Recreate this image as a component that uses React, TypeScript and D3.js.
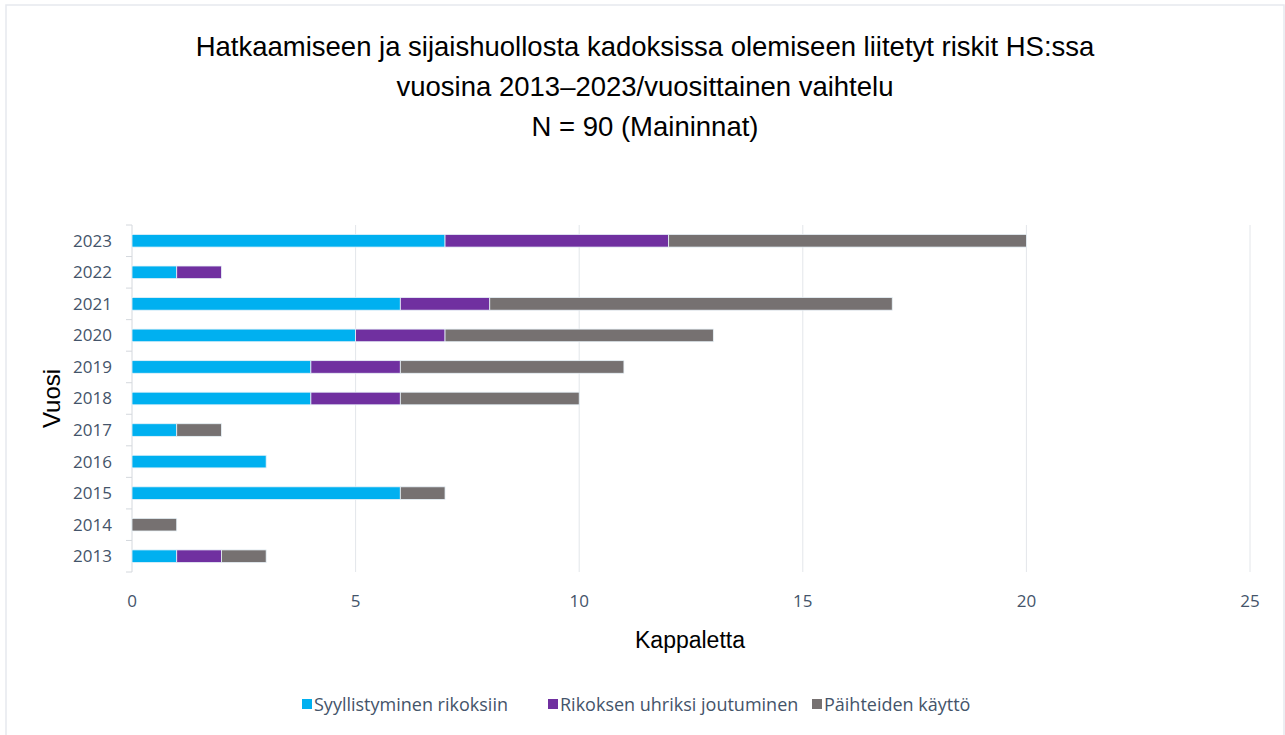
import React, { useEffect } from "react";
import * as d3 from "d3";

const years = ["2013", "2014", "2015", "2016", "2017", "2018", "2019", "2020", "2021", "2022", "2023"];
const rikoksiin = [1, 0, 6, 3, 1, 4, 4, 5, 6, 1, 7];
const uhriksi = [1, 0, 0, 0, 0, 2, 2, 2, 2, 1, 5];
const paihteet = [1, 1, 1, 0, 1, 4, 5, 6, 9, 0, 8];
const seriesNames = ["Syyllistyminen rikoksiin", "Rikoksen uhriksi joutuminen", "Päihteiden käyttö"];
const colors = ["#00B0F0", "#7030A0", "#767171"];
const xTicks = [0, 5, 10, 15, 20, 25];
const titleLines = [
  "Hatkaamiseen ja sijaishuollosta kadoksissa olemiseen liitetyt riskit HS:ssa",
  "vuosina 2013–2023/vuosittainen vaihtelu",
  "N = 90 (Maininnat)",
];

const W = 1285;
const H = 735;
const margin = { top: 225, right: 35, bottom: 163, left: 132 };
const titleFont = "'Liberation Sans', Arial, sans-serif";
const labelFont = "'Open Sans', 'Noto Sans', sans-serif";
const tickColor = "#44546A";

export default function App() {
  useEffect(() => {
    document.body.style.margin = "0";
  }, []);

  const rows = years.map((y, i) => ({ year: y, a: rikoksiin[i], b: uhriksi[i], c: paihteet[i] }));
  const stacked = d3.stack<any>().keys(["a", "b", "c"])(rows);

  const x = d3.scaleLinear().domain([0, 25]).range([margin.left, W - margin.right]);
  const y = d3
    .scaleBand()
    .domain([...years].reverse())
    .range([margin.top, H - margin.bottom])
    .paddingInner(0.6)
    .paddingOuter(0.3);

  const step = y.step();
  const top = margin.top;
  const bottom = H - margin.bottom;
  const legendX = [302, 548, 812];

  return (
    <svg width={W} height={H} style={{ display: "block", background: "#fff" }}>
      <path d={`M6,${H} V5 H${W - 1} V${H}`} fill="none" stroke="#e6e9ee" strokeWidth={1.5} />

      {titleLines.map((t, i) => (
        <text key={i} x={645} y={56 + i * 40} textAnchor="middle" fontFamily={titleFont} fontSize={27.5} fill="#000">
          {t}
        </text>
      ))}

      {xTicks.filter((t) => t > 0).map((t) => (
        <line key={t} x1={x(t)} x2={x(t)} y1={top} y2={bottom} stroke="#e3e6ea" strokeWidth={1} />
      ))}

      {/* y axis with band-boundary ticks */}
      <line x1={x(0)} x2={x(0)} y1={top} y2={bottom} stroke="#d4d8dd" strokeWidth={1} />
      {d3.range(years.length + 1).map((i) => (
        <line key={i} x1={x(0) - 6} x2={x(0)} y1={top + i * step} y2={top + i * step} stroke="#d4d8dd" strokeWidth={1} />
      ))}

      {stacked.map((s, si) => (
        <g key={si} fill={colors[si]}>
          {s.map((d, di) =>
            d[1] - d[0] > 0 ? (
              <rect
                key={di}
                x={x(d[0])}
                y={y(d.data.year)}
                width={x(d[1]) - x(d[0])}
                height={y.bandwidth()}
                stroke="#e8f2f8"
                strokeWidth={0.8}
              />
            ) : null
          )}
        </g>
      ))}

      {years.map((yr) => (
        <text
          key={yr}
          x={112}
          y={(y(yr) as number) + y.bandwidth() / 2}
          dy="0.35em"
          textAnchor="end"
          fontFamily={labelFont}
          fontSize={17}
          fill={tickColor}
        >
          {yr}
        </text>
      ))}

      {xTicks.map((t) => (
        <text key={t} x={x(t)} y={607} textAnchor="middle" fontFamily={labelFont} fontSize={17} fill={tickColor}>
          {t}
        </text>
      ))}

      <text x={690} y={648} textAnchor="middle" fontFamily={titleFont} fontSize={23} fill="#000">
        Kappaletta
      </text>
      <text
        transform={`translate(60, ${(top + bottom) / 2}) rotate(-90)`}
        textAnchor="middle"
        fontFamily={titleFont}
        fontSize={24}
        fill="#000"
      >
        Vuosi
      </text>

      {seriesNames.map((n, i) => (
        <g key={n} transform={`translate(${legendX[i]}, 705)`}>
          <rect x={0} y={-6} width={10} height={10} fill={colors[i]} />
          <text x={12} y={0} dy="0.35em" fontFamily={labelFont} fontSize={18} fill={tickColor}>
            {n}
          </text>
        </g>
      ))}
    </svg>
  );
}
